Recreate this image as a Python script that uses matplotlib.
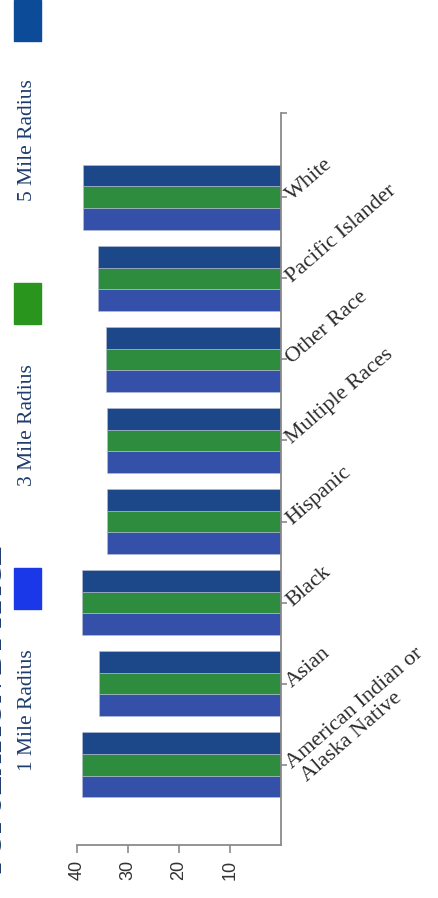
import matplotlib
matplotlib.use("Agg")
import matplotlib.pyplot as plt
from matplotlib.patches import Rectangle
import numpy as np

categories = ["American Indian or\nAlaska Native", "Asian", "Black", "Hispanic",
              "Multiple Races", "Other Race", "Pacific Islander", "White"]
series_names = ["1 Mile Radius", "3 Mile Radius", "5 Mile Radius"]
mile1 = [39.1, 35.6, 39.1, 34.1, 34.1, 34.4, 35.9, 38.8]
mile3 = [39.1, 35.6, 39.1, 34.1, 34.1, 34.4, 35.9, 38.8]
mile5 = [39.1, 35.6, 39.1, 34.1, 34.1, 34.4, 35.9, 38.8]
value_ticks = [10, 20, 30, 40]
title_text = "POPULATION BY RACE"

bar_colors = ["#3550a8", "#2e8c3e", "#1c4789"]
legend_colors = ["#1a38e8", "#2a951c", "#0b4b97"]
navy = "#1f3c6e"

W, H = 438, 898
fig = plt.figure(figsize=(W / 100, H / 100), dpi=100)
ax = fig.add_axes([77 / W, (H - 845) / H, (281 - 77) / W, (845 - 113) / H])

y = np.arange(len(categories))
bh = 0.8 / 3
for k, vals in enumerate([mile1, mile3, mile5]):
    ax.barh(y + (k - 1) * bh, vals, height=bh, color=bar_colors[k],
            edgecolor="#b8bfd6", linewidth=0.4)

ax.set_xlim(40, 0)
ax.set_ylim(-0.99, 8.04)

for s in ["top", "left"]:
    ax.spines[s].set_visible(False)
for s in ["right", "bottom"]:
    ax.spines[s].set_color("#8a8a8a")
    ax.spines[s].set_linewidth(1.3)

ax.set_xticks(value_ticks)
ax.set_xticklabels([str(v) for v in value_ticks], rotation=90,
                   fontsize=13, color="#333333", family="Liberation Sans")
ax.tick_params(axis="x", direction="out", length=6, width=1.2, color="#8a8a8a", pad=5)

ax.yaxis.tick_right()
ax.set_yticks(list(y) + [8.04])
ax.set_yticklabels([])
ax.tick_params(axis="y", direction="out", length=4, width=1.2, color="#8a8a8a")

ang = 41
th = np.radians(ang)
along = np.array([np.cos(th), np.sin(th)])
perp = np.array([np.sin(th), -np.cos(th)])
base = np.array([8.0, -3.0])
for i, lab in enumerate(categories):
    for j, line in enumerate(lab.split("\n")):
        off = base + j * (14.5 * perp + 2.0 * along)
        ax.annotate(line, xy=(0, i), xycoords="data", xytext=tuple(off),
                    textcoords="offset points", rotation=ang, rotation_mode="anchor",
                    ha="left", va="baseline", fontsize=16, family="Liberation Serif",
                    color="#2b2b2b", annotation_clip=False)

# legend (manual, vertical layout)
sw_tops = [568, 283, 0]
txt_centers = [710, 425, 140]
for k in range(3):
    fig.patches.append(Rectangle((14 / W, (H - sw_tops[k] - 41) / H), 27 / W, 41 / H,
                                 transform=fig.transFigure, color=legend_colors[k]))
    fig.text(28 / W, (H - txt_centers[k]) / H, series_names[k], rotation=90,
             ha="center", va="center", fontsize=15.5, family="Liberation Serif",
             color=navy)

fig.text(8 / W, (H - 545) / H, title_text, rotation=90, ha="right", va="top",
         fontsize=21, fontweight="bold", family="Liberation Serif", color=navy)

fig.savefig("out.png", dpi=100)
